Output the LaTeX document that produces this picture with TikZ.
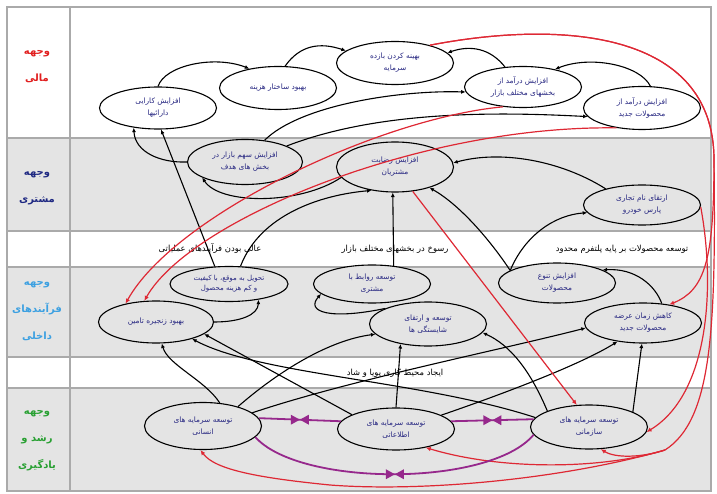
\documentclass[tikz,border=0pt]{standalone}
\usepackage{fontspec}
\usetikzlibrary{shapes.geometric,arrows.meta}
\newfontfamily\arabicfont[Script=Arabic]{DejaVu Sans}
\TeXXeTstate=1
\newcommand{\fa}[1]{\beginR #1\endR}
\definecolor{bandgray}{RGB}{228,228,228}
\definecolor{gridc}{RGB}{170,170,170}
\definecolor{navyt}{RGB}{40,40,130}
\definecolor{redc}{RGB}{222,40,52}
\definecolor{purc}{RGB}{150,40,140}
\definecolor{lred}{RGB}{225,30,30}
\definecolor{lnavy}{RGB}{30,40,130}
\definecolor{lblue}{RGB}{60,160,225}
\definecolor{lgreen}{RGB}{40,160,50}
\begin{document}
\begin{tikzpicture}[x=1pt,y=-1pt,
  ell/.style={ellipse,draw=black,line width=1.1pt,inner sep=0pt,minimum width=117pt,minimum height=42pt,align=center,text=navyt,font=\arabicfont\fontsize{7.4}{12}\selectfont},
  wf/.style={fill=white}, gf/.style={fill=bandgray},
  con/.style={draw=black,line width=1.1pt,-{Latex[length=4.5pt,width=4pt]}},
  rcon/.style={draw=redc,line width=1.2pt,-{Latex[length=5pt,width=4.5pt]}},
  pcon/.style={draw=purc,line width=1.8pt},
  theme/.style={font=\arabicfont\fontsize{8.4}{9}\selectfont,inner sep=1pt},
  side/.style={align=center,font=\arabicfont\bfseries\fontsize{10}{27}\selectfont},
  btie/.pic={\fill[purc] (0,0) -- (-9,-5) -- (-9,5) -- cycle; \fill[purc] (0,0) -- (9,-5) -- (9,5) -- cycle;}
]
\useasboundingbox (0,0) rectangle (717,494);
% background
\fill[white] (0,0) rectangle (717,494);
\fill[bandgray] (7,138) rectangle (711,231);
\fill[bandgray] (7,267) rectangle (711,357);
\fill[bandgray] (7,388) rectangle (711,491);
\draw[gridc,line width=1.2pt] (7,7) rectangle (711,491);
\foreach \yy in {138,231,267,357,388} \draw[gridc,line width=1.2pt] (7,\yy) -- (711,\yy);
\draw[gridc,line width=1.2pt] (70,7) -- (70,491);

% side labels
\node[side,text=lred] (L1) at (37,67) {\fa{وجهه}\\\fa{مالی}};
\node[side,text=lnavy] (L2) at (37,188) {\fa{وجهه}\\\fa{مشتری}};
\node[side,text=lblue] (L3) at (37,311) {\fa{وجهه}\\\fa{فرآیندهای}\\\fa{داخلی}};
\node[side,text=lgreen] (L4) at (37,441) {\fa{وجهه}\\\fa{رشد و}\\\fa{یادگیری}};

% theme labels
\node[theme] (T1) at (210,249) {\fa{عالی بودن فرآیندهای عملیاتی}};
\node[theme] (T2) at (395,249) {\fa{رسوخ در بخشهای مختلف بازار}};
\node[theme] (T3) at (622,249) {\fa{توسعه محصولات بر پایه پلتفرم محدود}};
\node[theme] (T4) at (395,373) {\fa{ایجاد محیط کاری پویا و شاد}};

% ellipses
\node[ell,wf] (E1) at (158,108) {\fa{افزایش کارایی}\\\fa{دارائیها}};
\node[ell,wf,minimum height=43pt] (E2) at (278,88) {\fa{بهبود ساختار هزینه}};
\node[ell,wf,minimum height=43pt] (E3) at (395,63) {\fa{بهینه کردن بازده}\\\fa{سرمایه}};
\node[ell,wf,minimum height=41pt] (E4) at (523,87) {\fa{افزایش درآمد از}\\\fa{بخشهای مختلف بازار}};
\node[ell,wf,minimum height=43pt] (E5) at (642,108) {\fa{افزایش درآمد از}\\\fa{محصولات جدید}};
\node[ell,gf,minimum width=115pt,minimum height=45pt] (E6) at (245,162) {\fa{افزایش سهم بازار در}\\\fa{بخش های هدف}};
\node[ell,gf,minimum height=50pt] (E7) at (395,167) {\fa{افزایش رضایت}\\\fa{مشتریان}};
\node[ell,gf,minimum height=40pt] (E8) at (642,205) {\fa{ارتقای نام تجاری}\\\fa{پارس خودرو}};
\node[ell,gf,minimum width=118pt,minimum height=35pt,font=\arabicfont\fontsize{7}{10}\selectfont] (E9) at (229,284) {\fa{تحویل به موقع، با کیفیت}\\\fa{و کم هزینه محصول}};
\node[ell,gf,minimum width=115pt] (E10) at (156,322) {\fa{بهبود زنجیره تامین}};
\node[ell,gf,minimum height=38pt] (E11) at (372,284) {\fa{توسعه روابط با}\\\fa{مشتری}};
\node[ell,gf,minimum height=44pt] (E12) at (428,324) {\fa{توسعه و ارتقای}\\\fa{شایستگی ها}};
\node[ell,gf,minimum height=40pt] (E13) at (557,283) {\fa{افزایش تنوع}\\\fa{محصولات}};
\node[ell,gf,minimum height=40pt] (E14) at (643,323) {\fa{کاهش زمان عرضه}\\\fa{محصولات جدید}};
\node[ell,gf,minimum height=47pt] (E15) at (203,426) {\fa{توسعه سرمایه های}\\\fa{انسانی}};
\node[ell,gf] (E16) at (396,429) {\fa{توسعه سرمایه های}\\\fa{اطلاعاتی}};
\node[ell,gf,minimum height=44pt] (E17) at (589,427) {\fa{توسعه سرمایه های}\\\fa{سازمانی}};

% black connectors
\draw[con] (E1.90) .. controls (165,65) and (215,55) .. (E2.146);
\draw[con] (E2.72) .. controls (300,45) and (320,42) .. (E3.166);
\draw[con] (E4.132) .. controls (490,48) and (470,45) .. (E3.11);
\draw[con] (E5.69) .. controls (640,65) and (590,55) .. (E4.29);
\draw[con] (E6.48) .. controls (300,105) and (400,90) .. (E4.185);
\draw[con] (E6.21) .. controls (380,110) and (500,112) .. (E5.189);
\draw[con] (E6.180) .. controls (160,163) and (135,152) .. (E1.219);
\draw[con] (E9.129) -- (E1.278);
\draw[con] (E7.191) .. controls (300,205) and (220,205) .. (E6.200);
\draw[con] (E9.57) .. controls (260,215) and (320,195) .. (E7.225);
\draw[con] (E11.40) -- (E7.265);
\draw[con] (E8.156) .. controls (560,160) and (500,150) .. (E7.4);
\draw[con] (E13.165) .. controls (525,235) and (555,215) .. (E8.188);
\draw[con] (E13.165) .. controls (490,240) and (460,205) .. (E7.329);
\draw[con] (E14.46) .. controls (655,285) and (635,268) .. (E13.16);
\draw[con] (E12.160) .. controls (330,320) and (305,312) .. (E11.191);
\draw[con] (E10.0) .. controls (240,322) and (258,315) .. (E9.332);
\draw[con] (E15.54) .. controls (205,380) and (168,365) .. (E10.285);
\draw[con] (E16.162) -- (E10.346);
\draw[con] (E17.170) .. controls (420,380) and (260,375) .. (E10.335);
\draw[con] (E15.29) .. controls (280,370) and (330,340) .. (E12.191);
\draw[con] (E16.north) -- (E12.216);
\draw[con] (E17.159) .. controls (530,370) and (510,345) .. (E12.351);
\draw[con] (E17.19) -- (E14.267);
\draw[con] (E16.17) .. controls (500,395) and (580,365) .. (E14.216);
\draw[con] (E15.15) .. controls (350,380) and (500,350) .. (E14.185);

% red connectors
\draw[rcon] (E7.306) -- (E17.119);
\draw[rcon] (E4.225) .. controls (380,118) and (175,215) .. (E10.149);
\draw[rcon] (E5.218) .. controls (420,125) and (190,220) .. (E10.119);
\draw[rcon] (E3.27) .. controls (560,20) and (714,30) .. (714,160) .. controls (714,260) and (705,290) .. (E14.35);
\draw[rcon] (E8.358) .. controls (716,290) and (708,395) .. (E17.355);
\draw[rcon] (E3.27) .. controls (560,20) and (714,30) .. (714,160) .. controls (716,330) and (712,420) .. (665,450) .. controls (640,458) and (615,458) .. (E17.298);
\draw[rcon] (665,450) .. controls (600,470) and (500,470) .. (E16.328);
\draw[rcon] (665,450) .. controls (560,480) and (420,492) .. (330,485) .. controls (260,478) and (215,470) .. (E15.264);

% purple
\draw[pcon] (E15.8) -- coordinate[pos=0.5] (b1) (E16.172);
\draw[pcon] (E16.8) -- coordinate[pos=0.5] (b2) (E17.172);
\draw[pcon] (E15.348) .. controls (300,487) and (490,487) .. coordinate[pos=0.5] (b3) (E17.188);
\pic at (b1) {btie};
\pic at (b2) {btie};
\pic at (b3) {btie};
\end{tikzpicture}
\end{document}
